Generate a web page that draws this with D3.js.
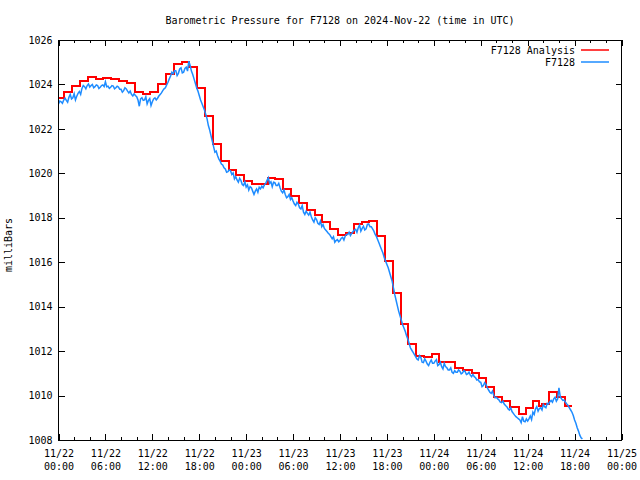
<!DOCTYPE html>
<html><head><meta charset="utf-8">
<script src="https://cdn.jsdelivr.net/npm/d3@7"></script>
<style>
body{margin:0;background:#fff}
text{font-family:"DejaVu Sans Mono","Liberation Mono",monospace;font-size:10px;fill:#000}
</style>
</head><body><svg id="c" width="640" height="480"></svg>
<script>
const title = "Barometric Pressure for F7128 on 2024-Nov-22 (time in UTC)";
const yLabel = "milliBars";
const seriesNames = ["F7128 Analysis", "F7128"];
const seriesColors = ["#ff0000", "#1e8cff"];
const startTime = "2024-11-22T00:00:00Z";
const endTime = "2024-11-25T00:00:00Z";
const yDomain = [1008, 1026];
const yTicks = [1008, 1010, 1012, 1014, 1016, 1018, 1020, 1022, 1024, 1026];

// Analysis (step) series: hours after start at which each value begins
const analysisHours = [0,0.75,1.75,2.75,3.75,4.75,5.75,6.75,7.75,8.75,9.75,10.75,11.75,12.75,13.75,14.75,15.75,16.75,17.75,18.75,19.75,20.75,21.75,22.75,23.75,24.75,25.75,26.75,27.75,28.75,29.75,30.75,31.75,32.75,33.75,34.75,35.75,36.75,37.75,38.75,39.75,40.75,41.75,42.75,43.75,44.75,45.75,46.75,47.75,48.6,50.65,51.7,52.9,53.75,54.7,55.7,56.75,57.7,58.85,59.8,60.7,61.4,61.8,62.7,63.8,64.8];
const analysisValues = [1023.38,1023.65,1023.92,1024.14,1024.32,1024.23,1024.28,1024.23,1024.17,1024.08,1023.66,1023.56,1023.66,1024.02,1024.46,1024.92,1025.0,1024.77,1023.83,1022.6,1021.32,1020.55,1020.14,1019.94,1019.67,1019.5,1019.5,1019.78,1019.73,1019.28,1018.98,1018.66,1018.35,1018.11,1017.8,1017.49,1017.21,1017.3,1017.71,1017.8,1017.86,1017.18,1016.06,1014.6,1013.2,1012.3,1011.8,1011.75,1011.86,1011.5,1011.23,1011.15,1011.03,1010.78,1010.37,1009.92,1009.74,1009.5,1009.16,1009.46,1009.75,1009.53,1009.62,1010.17,1009.92,1009.55];
const analysisEndHour = 65.7;

// Station observations, one value every 10 minutes from start (6 per hour)
const stationStepMinutes = 10;
const stationValues = [
1023.12,1023.25,1023.22,1023.15,1023.30,1023.38,
1023.28,1023.20,1023.42,1023.55,1023.35,1023.40,
1023.58,1023.30,1023.47,1023.60,1023.68,1023.55,
1023.82,1023.95,1023.90,1023.80,1023.95,1024.02,
1023.88,1023.95,1024.00,1023.85,1023.90,1023.98,
1023.95,1023.82,1023.87,1023.95,1023.98,1023.90,
1024.12,1023.90,1023.92,1023.82,1023.87,1023.95,
1023.93,1023.80,1023.85,1023.92,1023.88,1023.78,
1023.78,1023.65,1023.72,1023.85,1023.80,1023.70,
1023.62,1023.70,1023.55,1023.48,1023.58,1023.50,
1023.45,1023.30,1023.02,1023.35,1023.40,1023.28,
1023.30,1023.45,1023.12,1023.28,1023.36,1023.05,
1023.22,1023.35,1023.40,1023.30,1023.38,1023.48,
1023.55,1023.62,1023.72,1023.80,1023.85,1023.98,
1024.10,1024.25,1024.38,1024.55,1024.48,1024.62,
1024.62,1024.40,1024.50,1024.70,1024.75,1024.52,
1024.55,1024.72,1024.78,1024.60,1025.05,1024.85,
1024.60,1024.45,1024.25,1024.05,1023.85,1023.70,
1023.50,1023.30,1023.15,1023.00,1022.85,1022.65,
1022.45,1022.15,1021.95,1021.70,1021.45,1021.20,
1020.95,1021.00,1020.80,1020.65,1020.55,1020.42,
1020.38,1020.25,1020.20,1020.05,1020.08,1020.15,
1020.12,1019.95,1020.02,1019.75,1019.85,1019.70,
1019.60,1019.78,1019.68,1019.50,1019.45,1019.62,
1019.38,1019.48,1019.25,1019.40,1019.35,1019.20,
1019.05,1019.20,1019.30,1019.15,1019.38,1019.30,
1019.42,1019.35,1019.48,1019.55,1019.68,1019.80,
1019.55,1019.62,1019.40,1019.60,1019.58,1019.45,
1019.45,1019.55,1019.35,1019.20,1019.12,1019.25,
1019.05,1018.90,1018.95,1019.05,1018.82,1018.90,
1018.75,1018.62,1018.55,1018.70,1018.62,1018.45,
1018.40,1018.55,1018.25,1018.15,1018.30,1018.20,
1018.12,1018.25,1018.05,1017.90,1017.80,1018.00,
1017.92,1017.75,1017.70,1017.85,1017.60,1017.70,
1017.52,1017.45,1017.38,1017.30,1017.25,1017.15,
1017.05,1017.15,1016.90,1016.98,1017.02,1016.92,
1016.98,1017.08,1017.12,1017.00,1017.18,1017.25,
1017.25,1017.35,1017.20,1017.30,1017.38,1017.45,
1017.48,1017.35,1017.55,1017.68,1017.40,1017.52,
1017.62,1017.45,1017.50,1017.70,1017.72,1017.60,
1017.60,1017.50,1017.40,1017.25,1017.15,1017.00,
1016.85,1016.70,1016.55,1016.40,1016.20,1016.05,
1015.90,1015.75,1015.55,1015.35,1015.15,1014.85,
1014.55,1014.30,1014.05,1013.80,1013.60,1013.40,
1013.20,1013.05,1012.90,1012.70,1012.55,1012.35,
1012.15,1012.05,1011.95,1011.85,1011.75,1011.65,
1011.60,1011.80,1011.72,1011.50,1011.48,1011.65,
1011.55,1011.42,1011.35,1011.50,1011.60,1011.45,
1011.45,1011.55,1011.62,1011.35,1011.40,1011.50,
1011.30,1011.20,1011.45,1011.30,1011.25,1011.15,
1011.15,1011.25,1011.05,1011.00,1011.12,1011.05,
1011.05,1011.15,1011.10,1010.98,1011.02,1011.12,
1011.08,1010.95,1010.98,1011.05,1010.92,1010.85,
1010.95,1010.85,1010.80,1010.70,1010.72,1010.62,
1010.60,1010.40,1010.45,1010.58,1010.50,1010.35,
1010.25,1010.15,1010.10,1010.20,1010.00,1009.90,
1009.92,1009.85,1009.80,1009.70,1009.68,1009.75,
1009.62,1009.55,1009.50,1009.40,1009.35,1009.45,
1009.28,1009.20,1009.12,1009.05,1009.00,1008.95,
1008.90,1008.78,1009.05,1008.85,1008.82,1008.95,
1008.85,1008.95,1009.08,1008.92,1009.25,1009.15,
1009.40,1009.50,1009.30,1009.42,1009.45,1009.35,
1009.60,1009.50,1009.45,1009.65,1009.62,1009.72,
1009.78,1009.70,1009.85,1009.92,1009.75,1009.85,
1010.35,1009.95,1009.85,1009.78,1009.80,1009.70,
1009.62,1009.55,1009.45,1009.35,1009.25,1009.10,
1008.90,1008.75,1008.55,1008.40,1008.22,1008.10,
1008.05
];

const svg = d3.select("#c");
const L = 58.5, R = 621.5, T = 40, B = 440;
const t0 = new Date(startTime), t1 = new Date(endTime);
const x = d3.scaleUtc().domain([t0, t1]).range([L, R]);
const y = d3.scaleLinear().domain(yDomain).range([B, T]);
const H = 3600e3;

svg.append("defs").append("clipPath").attr("id","clip")
  .append("rect").attr("x",L).attr("y",T).attr("width",R-L).attr("height",B-T+1);

// title
svg.append("text").attr("x",340).attr("y",24).attr("text-anchor","middle").text(title);
// y label
svg.append("text").attr("transform","translate(12,245) rotate(-90)").attr("text-anchor","middle").text(yLabel);

const major = d3.utcHour.every(6).range(t0, new Date(+t1 + 1));
const minor = d3.utcHour.every(2).range(t0, new Date(+t1 + 1)).filter(d => d.getUTCHours() % 6 !== 0);

function clean(g){ g.select(".domain").remove(); g.selectAll("line").attr("stroke","#000").attr("shape-rendering","crispEdges"); }

// bottom axis with labels
const gb = svg.append("g").attr("transform",`translate(0,${B})`)
  .call(d3.axisBottom(x).tickValues(major).tickSize(-6).tickPadding(0).tickFormat(""));
clean(gb);
gb.selectAll(".tick text").each(function(d){
  const t = d3.select(this).attr("y",null).attr("dy",null);
  t.append("tspan").attr("x",0).attr("y",17).text(d3.utcFormat("%m/%d")(d));
  t.append("tspan").attr("x",0).attr("y",30).text(d3.utcFormat("%H:%M")(d));
});
gb.attr("font-size",null).attr("font-family",null);
clean(svg.append("g").attr("transform",`translate(0,${B})`)
  .call(d3.axisBottom(x).tickValues(minor).tickSize(-3).tickFormat("")));
clean(svg.append("g").attr("transform",`translate(0,${T})`)
  .call(d3.axisTop(x).tickValues(major).tickSize(-6).tickFormat("")));
clean(svg.append("g").attr("transform",`translate(0,${T})`)
  .call(d3.axisTop(x).tickValues(minor).tickSize(-3).tickFormat("")));
const gl = svg.append("g").attr("transform",`translate(${L},0)`)
  .call(d3.axisLeft(y).tickValues(yTicks).tickSize(-6).tickPadding(6).tickFormat(d3.format("d")));
clean(gl);
gl.attr("font-size",null).attr("font-family",null);
clean(svg.append("g").attr("transform",`translate(${R},0)`)
  .call(d3.axisRight(y).tickValues(yTicks).tickSize(-6).tickFormat("")));

// data
const plot = svg.append("g").attr("clip-path","url(#clip)");
const analysis = analysisHours.map((h,i) => ({t: new Date(+t0 + h*H), v: analysisValues[i]}));
analysis.push({t: new Date(+t0 + analysisEndHour*H), v: analysisValues[analysisValues.length-1]});
const station = stationValues.map((v,i) => ({t: new Date(+t0 + i*stationStepMinutes*60e3), v}));

plot.append("path").datum(analysis)
  .attr("d", d3.line().x(d=>x(d.t)).y(d=>y(d.v)).curve(d3.curveStepAfter))
  .attr("fill","none").attr("stroke",seriesColors[0]).attr("stroke-width",2)
  .attr("shape-rendering","crispEdges");
plot.append("path").datum(station)
  .attr("d", d3.line().x(d=>x(d.t)).y(d=>Math.min(y(d.v), B-1)))
  .attr("fill","none").attr("stroke",seriesColors[1]).attr("stroke-width",1.5);

// frame
svg.append("rect").attr("x",L).attr("y",T+0.5).attr("width",R-L).attr("height",B-T-0.5)
  .attr("fill","none").attr("stroke","#000").attr("shape-rendering","crispEdges");

// legend
seriesNames.forEach((n,i) => {
  const yy = 50 + i*12;
  svg.append("text").attr("x",575).attr("y",yy+3.5).attr("text-anchor","end").text(n);
  svg.append("line").attr("x1",581).attr("x2",609).attr("y1",yy).attr("y2",yy)
    .attr("stroke",seriesColors[i]).attr("stroke-width",1.5);
});
</script></body></html>
